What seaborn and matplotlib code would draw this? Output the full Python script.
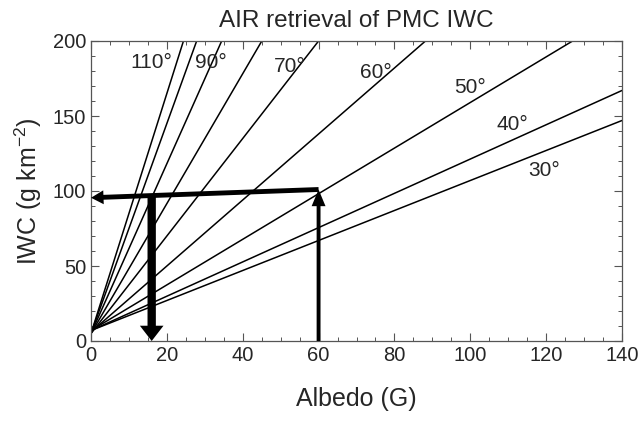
import numpy as np
import pandas as pd
import seaborn as sns
import matplotlib.pyplot as plt
from matplotlib.ticker import MultipleLocator

# scattering angle lines: IWC = intercept + slope * albedo
angles = [30, 40, 50, 60, 70, 80, 90, 100, 110]
slopes = [1.0, 1.143, 1.52, 2.2, 3.25, 4.33, 5.66, 7.0, 8.0]
intercepts = [7, 7, 7, 6, 5, 5, 5, 5, 5]

# labelled angles and where their labels sit (albedo, IWC)
label_angles = [110, 90, 70, 60, 50, 40, 30]
label_x = [16, 31.5, 52.5, 75, 100, 111, 119.5]
label_y = [186, 186, 183, 179, 169, 144, 114]

# retrieval example arrows
up_x = [60, 60]
up_y = [0, 101]
left_x = [60, 0]
left_y = [101, 95.5]
down_x = [16, 16]
down_y = [97, 0]


def build_df():
    rows = []
    for a, m, b in zip(angles, slopes, intercepts):
        for g in [0, 140]:
            rows.append({"angle": a, "albedo": g, "iwc": b + m * g})
    return pd.DataFrame(rows)


def arrow(ax, xs, ys, width, headwidth, headlength):
    ax.annotate("", xy=(xs[1], ys[1]), xytext=(xs[0], ys[0]),
                arrowprops=dict(width=width, headwidth=headwidth,
                                headlength=headlength, shrink=0,
                                facecolor="black", edgecolor="black", lw=0))


def create_plot(df):
    sns.set_style("ticks")
    plt.rcParams['font.family'] = ['Liberation Sans', 'DejaVu Sans']
    plt.rcParams['mathtext.default'] = 'regular'

    fig = plt.figure(figsize=(6.43, 4.26), dpi=100)
    ax = fig.add_axes([91 / 643, 85 / 426, 531 / 643, 300 / 426])

    sns.lineplot(data=df, x="albedo", y="iwc", hue="angle", units="angle",
                 estimator=None, palette=["black"] * len(angles),
                 linewidth=1.1, legend=False, ax=ax)

    for a, x, y in zip(label_angles, label_x, label_y):
        ax.text(x, y, f"{a}°", fontsize=15, ha="center", va="center")

    arrow(ax, up_x, up_y, 2.8, 10, 12)
    arrow(ax, left_x, left_y, 3.5, 10, 9)
    arrow(ax, down_x, down_y, 6.0, 17, 11)

    ax.set_xlim(0, 140)
    ax.set_ylim(0, 200)
    ax.xaxis.set_major_locator(MultipleLocator(20))
    ax.xaxis.set_minor_locator(MultipleLocator(5))
    ax.yaxis.set_major_locator(MultipleLocator(50))
    ax.yaxis.set_minor_locator(MultipleLocator(10))
    ax.tick_params(which="both", direction="in", top=True, right=True,
                   labelsize=14.5, color="#555555")
    ax.tick_params(which="major", length=6, width=0.8)
    ax.tick_params(which="minor", length=3, width=0.7)
    for s in ax.spines.values():
        s.set_color("#555555")
        s.set_linewidth(0.9)

    ax.set_xlabel("Albedo (G)", fontsize=18, labelpad=16)
    ax.set_ylabel("IWC (g km$^{-2}$)", fontsize=18, labelpad=6)
    ax.set_title("AIR retrieval of PMC IWC", fontsize=17.5, pad=10)

    fig.savefig("out.png", dpi=100)
    plt.close(fig)


def main():
    df = build_df()
    create_plot(df)


if __name__ == '__main__':
    main()
